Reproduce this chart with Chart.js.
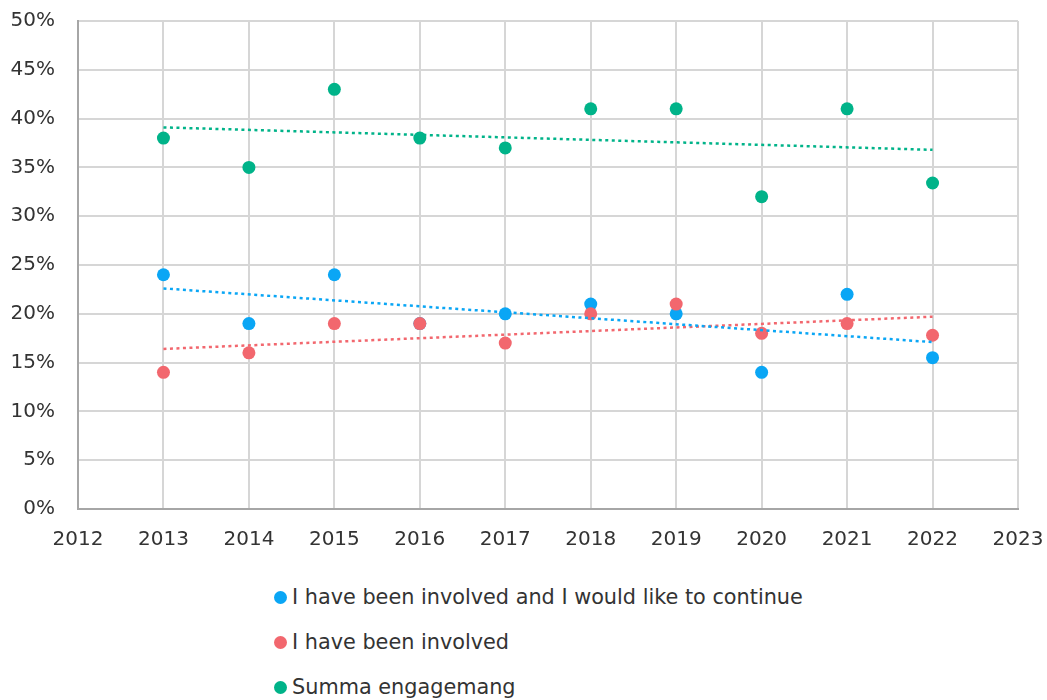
<!DOCTYPE html>
<html>
<head>
<meta charset="utf-8">
<script src="https://cdn.jsdelivr.net/npm/chart.js@4/dist/chart.umd.min.js"></script>
<style>
    html, body { margin: 0; padding: 0; background: #ffffff; }
    #wrap { position: relative; width: 1047px; height: 700px; overflow: hidden; }
    #chart { position: absolute; left: 0; top: 0; }
    #legend { position: absolute; left: 274px; top: 583px; font-family: "DejaVu Sans", sans-serif; font-size: 20.8px; color: #333333; }
    .item { height: 45px; line-height: 28px; display: flex; align-items: flex-start; }
    .dot { width: 13px; height: 13px; border-radius: 50%; margin-top: 8px; margin-right: 5px; flex: none; }
</style>
</head>
<body>
<div id="wrap">
    <canvas id="chart" width="1047" height="570"></canvas>
    <div id="legend"></div>
</div>
<script>
// Data (percent)
const years = [2013, 2014, 2015, 2016, 2017, 2018, 2019, 2020, 2021, 2022];
const involvedContinue = [24, 19, 24, 19, 20, 21, 20, 14, 22, 15.5];
const involved = [14, 16, 19, 19, 17, 20, 21, 18, 19, 17.8];
const summa = [38, 35, 43, 38, 37, 41, 41, 32, 41, 33.4];

// Trend line endpoints
const trendYears = [2013, 2022];
const trendContinue = [22.6, 17.1];
const trendInvolved = [16.4, 19.7];
const trendSumma = [39.1, 36.8];

const seriesNames = [
    'I have been involved and I would like to continue',
    'I have been involved',
    'Summa engagemang'
];
const seriesColors = ['#0aa6f5', '#f2676e', '#00b389'];

function points(xs, ys) {
    return xs.map((x, i) => ({ x: x, y: ys[i] }));
}

function scatterSet(label, values, color, order) {
    return {
        label: label,
        data: points(years, values),
        order: order,
        showLine: false,
        pointRadius: 6.5,
        pointHoverRadius: 6.5,
        pointBackgroundColor: color,
        pointBorderWidth: 0,
        borderColor: color,
        backgroundColor: color
    };
}

function trendSet(values, color) {
    return {
        label: 'trend',
        data: points(trendYears, values),
        order: 0,
        borderColor: color,
        borderWidth: 2.5,
        borderDash: [3, 3.5],
        pointRadius: 0,
        fill: false,
        tension: 0
    };
}

const ctx = document.getElementById('chart').getContext('2d');

const chart = new Chart(ctx, {
    type: 'line',
    data: {
        datasets: [
            scatterSet(seriesNames[0], involvedContinue, seriesColors[0], 3),
            scatterSet(seriesNames[1], involved, seriesColors[1], 2),
            scatterSet(seriesNames[2], summa, seriesColors[2], 1),
            trendSet(trendContinue, seriesColors[0]),
            trendSet(trendInvolved, seriesColors[1]),
            trendSet(trendSumma, seriesColors[2])
        ]
    },
    options: {
        responsive: false,
        animation: false,
        layout: {
            padding: { top: 21, right: 29, left: 0, bottom: 0 }
        },
        scales: {
            x: {
                type: 'linear',
                min: 2012,
                max: 2023,
                ticks: {
                    stepSize: 1,
                    padding: 19,
                    color: '#333333',
                    font: { family: 'DejaVu Sans', size: 20 },
                    callback: (v) => String(v)
                },
                grid: { color: '#d6d6d6', lineWidth: 2, drawTicks: false },
                border: { color: '#a6a6a6', width: 2 },
                afterFit: (scale) => {
                    scale.height = 61;
                    scale.paddingLeft = 0;
                    scale.paddingRight = 0;
                }
            },
            y: {
                min: 0,
                max: 50,
                ticks: {
                    stepSize: 5,
                    padding: 23,
                    color: '#333333',
                    font: { family: 'DejaVu Sans', size: 20 },
                    callback: (v) => v + '%'
                },
                grid: { color: '#d6d6d6', lineWidth: 2, drawTicks: false },
                border: { color: '#a6a6a6', width: 2 },
                afterFit: (scale) => {
                    scale.width = 78;
                    scale.paddingTop = 0;
                    scale.paddingBottom = 0;
                }
            }
        },
        plugins: {
            legend: { display: false },
            tooltip: { enabled: false }
        }
    }
});

// Legend below the chart, one item per row, from the scatter datasets
const legend = document.getElementById('legend');
chart.data.datasets.filter(d => d.label !== 'trend').forEach(d => {
    const row = document.createElement('div');
    row.className = 'item';
    const dot = document.createElement('span');
    dot.className = 'dot';
    dot.style.background = d.pointBackgroundColor;
    const text = document.createElement('span');
    text.textContent = d.label;
    row.appendChild(dot);
    row.appendChild(text);
    legend.appendChild(row);
});
</script>
</body>
</html>
